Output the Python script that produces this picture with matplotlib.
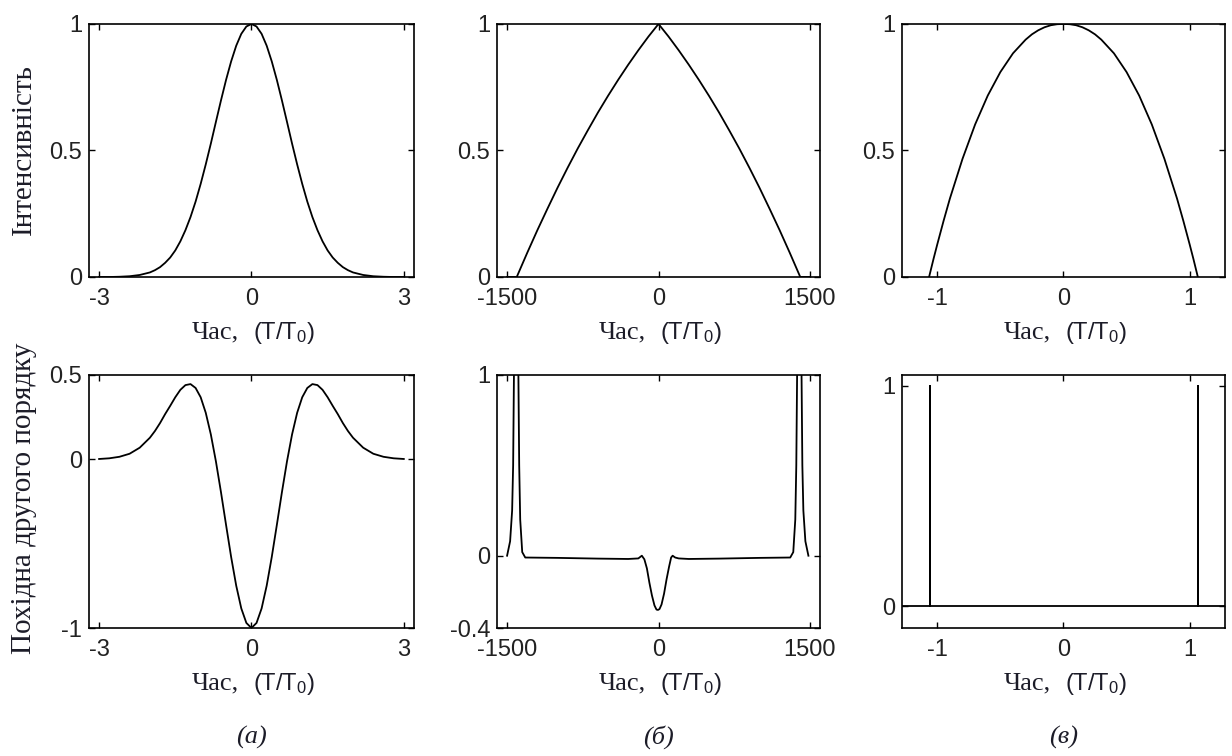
import matplotlib

matplotlib.use("Agg")

import matplotlib.pyplot as plt

plt.rcParams["mathtext.fontset"] = "custom"
plt.rcParams["mathtext.rm"] = "Liberation Sans"
plt.rcParams["mathtext.it"] = "Liberation Sans:italic"

# (а) гаусівський імпульс
t_a = [-3.0, -2.8, -2.6, -2.4, -2.2, -2.0, -1.9, -1.8, -1.7, -1.6, -1.5, -1.4, -1.3,
       -1.2, -1.1, -1.0, -0.9, -0.8, -0.7, -0.6, -0.5, -0.4, -0.3, -0.2, -0.1, 0.0,
       0.1, 0.2, 0.3, 0.4, 0.5, 0.6, 0.7, 0.8, 0.9, 1.0, 1.1, 1.2, 1.3, 1.4, 1.5,
       1.6, 1.7, 1.8, 1.9, 2.0, 2.2, 2.4, 2.6, 2.8, 3.0]
int_a = [0.0, 0.0, 0.001, 0.003, 0.008, 0.018, 0.027, 0.039, 0.056, 0.077, 0.105,
         0.141, 0.185, 0.237, 0.298, 0.368, 0.445, 0.527, 0.613, 0.698, 0.779, 0.852,
         0.914, 0.961, 0.990, 1.0, 0.990, 0.961, 0.914, 0.852, 0.779, 0.698, 0.613,
         0.527, 0.445, 0.368, 0.298, 0.237, 0.185, 0.141, 0.105, 0.077, 0.056, 0.039,
         0.027, 0.018, 0.008, 0.003, 0.001, 0.0, 0.0]
d2_a = [0.002, 0.006, 0.015, 0.033, 0.069, 0.128, 0.168, 0.215, 0.268, 0.317, 0.368,
        0.412, 0.440, 0.446, 0.423, 0.368, 0.276, 0.148, -0.012, -0.195, -0.389,
        -0.579, -0.749, -0.884, -0.970, -1.0, -0.970, -0.884, -0.749, -0.579, -0.389,
        -0.195, -0.012, 0.148, 0.276, 0.368, 0.423, 0.446, 0.440, 0.412, 0.368, 0.317,
        0.268, 0.215, 0.168, 0.128, 0.069, 0.033, 0.015, 0.006, 0.002]

# (б) трикутний імпульс
t_b = [-1500, -1402, -1400, -1300, -1200, -1100, -1000, -900, -800, -700, -600, -500,
       -400, -300, -200, -100, 0, 100, 200, 300, 400, 500, 600, 700, 800, 900, 1000,
       1100, 1200, 1300, 1400, 1402, 1500]
int_b = [0.0, 0.0, 0.004, 0.096, 0.185, 0.270, 0.353, 0.432, 0.508, 0.580, 0.650,
         0.716, 0.779, 0.839, 0.896, 0.950, 1.0, 0.950, 0.896, 0.839, 0.779, 0.716,
         0.650, 0.580, 0.508, 0.432, 0.353, 0.270, 0.185, 0.096, 0.004, 0.0, 0.0]
t_b2 = [-1500, -1470, -1450, -1440, -1432, -1420, -1410, -1400, -1388, -1380, -1370,
        -1350, -1320, -1000, -600, -300, -200, -165, -140, -115, -90, -65, -40, -20,
        -5, 10, 30, 55, 80, 105, 125, 140, 165, 200, 300, 600, 1000, 1305, 1335, 1355,
        1365, 1373, 1385, 1395, 1405, 1417, 1425, 1435, 1455, 1485]
d2_b = [0.0, 0.08, 0.25, 0.5, 1.0, 2.5, 3.0, 2.5, 1.0, 0.5, 0.2, 0.02, -0.01, -0.012,
        -0.016, -0.018, -0.015, 0.0, -0.02, -0.07, -0.15, -0.22, -0.275, -0.298, -0.30,
        -0.295, -0.27, -0.21, -0.13, -0.06, -0.01, 0.0, -0.01, -0.015, -0.018, -0.016,
        -0.012, -0.01, 0.02, 0.2, 0.5, 1.0, 2.5, 3.0, 2.5, 1.0, 0.5, 0.25, 0.08, 0.0]

# (в) параболічний імпульс
t_c = [-1.065, -1.03, -1.0, -0.95, -0.9, -0.8, -0.7, -0.6, -0.5, -0.4, -0.3, -0.25,
       -0.2, -0.15, -0.1, -0.05, 0.0, 0.05, 0.1, 0.15, 0.2, 0.25, 0.3, 0.4, 0.5, 0.6,
       0.7, 0.8, 0.9, 0.95, 1.0, 1.03, 1.065]
int_c = [0.0, 0.071, 0.129, 0.222, 0.310, 0.467, 0.603, 0.717, 0.810, 0.884, 0.938,
         0.959, 0.975, 0.987, 0.995, 0.999, 1.0, 0.999, 0.995, 0.987, 0.975, 0.959,
         0.938, 0.884, 0.810, 0.717, 0.603, 0.467, 0.310, 0.222, 0.129, 0.071, 0.0]
t_c2 = [-1.3, -1.06, -1.06, -1.06, 1.07, 1.07, 1.07, 1.3]
d2_c = [0.0, 0.0, 1.0, 0.0, 0.0, 1.0, 0.0, 0.0]

TXT = "#1c1c28"
TICK = "#222222"


def setup(ax, xlim, ylim, xt, xtl, yt, ytl):
    ax.set_xlim(*xlim)
    ax.set_ylim(*ylim)
    ax.set_xticks(xt)
    ax.set_xticklabels(xtl, family="Liberation Sans", color=TICK)
    ax.set_yticks(yt)
    ax.set_yticklabels(ytl, family="Liberation Sans", color=TICK)
    ax.tick_params(direction="in", length=4, width=1, top=True, right=True,
                   labelsize=17)
    ax.tick_params(axis="x", pad=8)
    ax.tick_params(axis="y", pad=5)
    for s in ax.spines.values():
        s.set_linewidth(1.2)
    # підпис осі часу: "Час," серифом, "(T/T0)" без засічок
    ax.annotate("Час,", xy=(0.5, 0), xycoords="axes fraction", xytext=(-9, -40),
                textcoords="offset points", ha="right", va="center",
                family="Liberation Serif", fontsize=19, color=TXT)
    ax.annotate("(T/T$_0$)", xy=(0.5, 0), xycoords="axes fraction", xytext=(1, -40),
                textcoords="offset points", ha="left", va="center",
                family="Liberation Sans", fontsize=17, color=TXT)


fig = plt.figure(figsize=(12.32, 7.56), dpi=100)
lefts = [0.0722, 0.4034, 0.7321]
widths = [0.2638, 0.2622, 0.2622]
h = 0.3347
top_axes = [fig.add_axes([l, 0.6336, w, h]) for l, w in zip(lefts, widths)]
bot_axes = [fig.add_axes([l, 0.1693, w, h]) for l, w in zip(lefts, widths)]

lw = 1.3
top_axes[0].plot(t_a, int_a, color="black", lw=lw)
top_axes[1].plot(t_b, int_b, color="black", lw=lw)
top_axes[2].plot(t_c, int_c, color="black", lw=lw)
bot_axes[0].plot(t_a, d2_a, color="black", lw=lw)
bot_axes[1].plot(t_b2, d2_b, color="black", lw=lw)
bot_axes[2].plot(t_c2, d2_c, color="black", lw=lw)

setup(top_axes[0], (-3.2, 3.2), (0, 1), [-3, 0, 3], ["-3", "0", "3"],
      [0, 0.5, 1], ["0", "0.5", "1"])
setup(top_axes[1], (-1600, 1600), (0, 1), [-1500, 0, 1500], ["-1500", "0", "1500"],
      [0, 0.5, 1], ["0", "0.5", "1"])
setup(top_axes[2], (-1.28, 1.28), (0, 1), [-1, 0, 1], ["-1", "0", "1"],
      [0, 0.5, 1], ["0", "0.5", "1"])
setup(bot_axes[0], (-3.2, 3.2), (-1, 0.5), [-3, 0, 3], ["-3", "0", "3"],
      [-1, 0, 0.5], ["-1", "0", "0.5"])
setup(bot_axes[1], (-1600, 1600), (-0.4, 1), [-1500, 0, 1500], ["-1500", "0", "1500"],
      [-0.4, 0, 1], ["-0.4", "0", "1"])
setup(bot_axes[2], (-1.28, 1.28), (-0.1, 1.05), [-1, 0, 1], ["-1", "0", "1"],
      [0, 1], ["0", "1"])

fig.text(24 / 1232, 1 - 150 / 756, "Інтенсивність", rotation=90, ha="center",
         va="center", family="Liberation Serif", fontsize=21, color=TXT)
fig.text(24 / 1232, 1 - 498 / 756, "Похідна другого порядку", rotation=90,
         ha="center", va="center", family="Liberation Serif", fontsize=21, color=TXT)

for x, lab in zip([251, 658, 1064], ["(а)", "(б)", "(в)"]):
    fig.text(x / 1232, 1 - 737 / 756, lab, ha="center", va="center",
             family="Liberation Serif", style="italic", fontsize=19, color=TXT)

fig.savefig("out.png", dpi=100)
plt.close(fig)
